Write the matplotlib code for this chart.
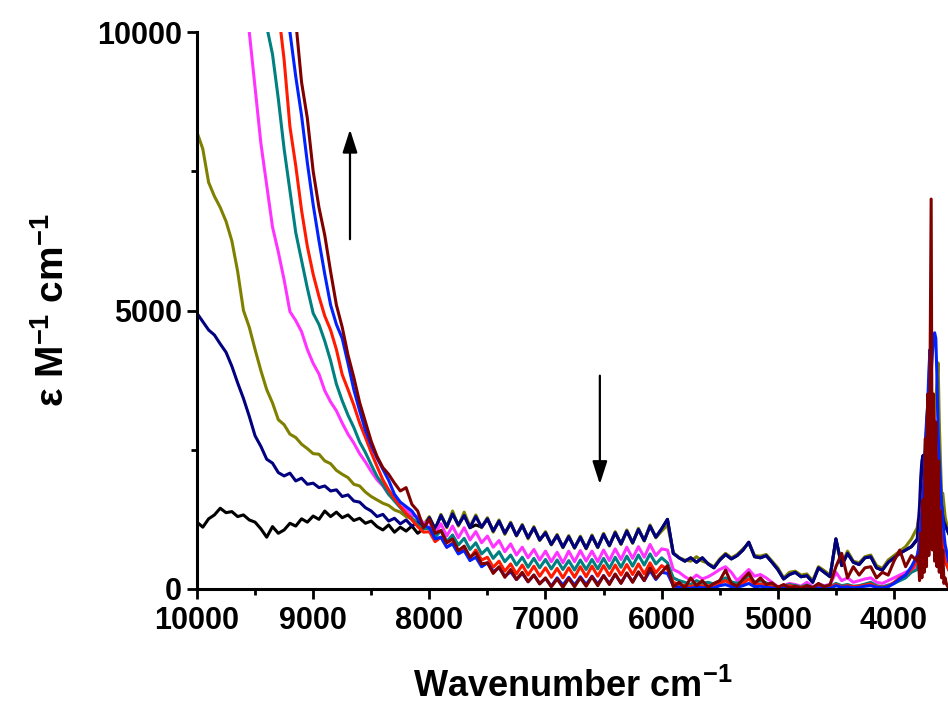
import matplotlib
matplotlib.use("Agg")
import matplotlib.pyplot as plt
from matplotlib.ticker import MultipleLocator

plt.rcParams['font.family'] = ['Liberation Sans', 'DejaVu Sans']
plt.rcParams['font.weight'] = 'bold'
plt.rcParams['mathtext.fontset'] = 'custom'
plt.rcParams['mathtext.rm'] = 'Liberation Sans:bold'
plt.rcParams['mathtext.bf'] = 'Liberation Sans:bold'
plt.rcParams['mathtext.default'] = 'bf'

# wavenumber grid (cm-1), 10 points per row
wavenumber = [
    10000, 9950, 9900, 9850, 9800, 9750, 9700, 9650, 9600, 9550,
    9500, 9450, 9400, 9350, 9300, 9250, 9200, 9150, 9100, 9050,
    9000, 8950, 8900, 8850, 8800, 8750, 8700, 8650, 8600, 8550,
    8500, 8450, 8400, 8350, 8300, 8250, 8200, 8150, 8100, 8050,
    8000, 7950, 7900, 7850, 7800, 7750, 7700, 7650, 7600, 7550,
    7500, 7450, 7400, 7350, 7300, 7250, 7200, 7150, 7100, 7050,
    7000, 6950, 6900, 6850, 6800, 6750, 6700, 6650, 6600, 6550,
    6500, 6450, 6400, 6350, 6300, 6250, 6200, 6150, 6100, 6050,
    6000, 5950, 5900, 5850, 5800, 5750, 5700, 5650, 5600, 5550,
    5500, 5450, 5400, 5350, 5300, 5250, 5200, 5150, 5100, 5050,
    5000, 4950, 4900, 4850, 4800, 4750, 4700, 4650, 4600, 4550,
    4500, 4450, 4400, 4350, 4300, 4250, 4200, 4150, 4100, 4050,
    4000, 3950, 3900, 3850, 3800, 3790, 3780, 3770, 3760, 3750,
    3740, 3730, 3720, 3710, 3700, 3690, 3680, 3670, 3660, 3650,
    3640, 3630, 3620, 3610, 3600, 3590, 3580, 3570, 3560, 3550,
    3540, 3530,
]

eps_black = [
    1200, 1110, 1260, 1330, 1450, 1370, 1390, 1300, 1330, 1240,
    1200, 1080, 930, 1120, 1000, 1060, 1180, 1130, 1260, 1200,
    1310, 1250, 1400, 1300, 1380, 1280, 1330, 1230, 1270, 1180,
    1220, 1120, 1060, 1150, 1020, 1110, 1040, 1130, 1000, 1080,
    1280, 1080, 1320, 1120, 1350, 1150, 1320, 1100, 1150, 1110,
    1260, 1040, 1220, 1000, 1180, 960, 1140, 920, 1100, 880,
    1010, 800, 960, 750, 940, 740, 930, 730, 950, 750,
    980, 780, 1010, 810, 1040, 830, 1070, 870, 1130, 930,
    1080, 1250, 640, 560, 500, 560, 480, 560, 450, 380,
    520, 620, 540, 600, 700, 840, 580, 560, 600, 480,
    350, 180, 260, 300, 220, 240, 120, 380, 300, 220,
    900, 420, 640, 480, 440, 560, 580, 380, 340, 480,
    560, 640, 700, 760, 880, 950, 1150, 1450, 1900, 2200,
    2300, 2100, 2500, 2900, 3200, 3300, 3000, 3500, 3200, 2900,
    2500, 2200, 1900, 1700, 1800, 1600, 1400, 1250, 1150, 1100,
    1050, 1000,
]

eps_olive = [
    8200, 7900, 7300, 7050, 6850, 6600, 6250, 5700, 5000, 4700,
    4300, 3920, 3580, 3340, 3040, 2950, 2780, 2720, 2600, 2520,
    2430, 2420, 2300, 2250, 2130, 2060, 2000, 1880, 1850, 1740,
    1660, 1600, 1540, 1500, 1420, 1380, 1300, 1260, 1200, 1150,
    1300, 1060, 1340, 1100, 1400, 1130, 1380, 1120, 1330, 1100,
    1280, 1020, 1240, 980, 1200, 950, 1160, 900, 1120, 870,
    1030, 790, 980, 740, 960, 730, 950, 720, 970, 740,
    1000, 770, 1030, 800, 1060, 820, 1090, 860, 1150, 920,
    1040, 1150, 650, 560, 520, 500, 580, 500, 460, 400,
    540, 640, 560, 620, 720, 820, 600, 590, 620, 500,
    380, 200, 300, 320, 250, 270, 150, 400, 330, 250,
    850, 440, 680, 500, 470, 580, 610, 420, 370, 520,
    600, 680, 760, 900, 1100, 1250, 1000, 1300, 1100, 1400,
    1600, 1900, 2100, 2400, 2600, 2900, 2700, 3000, 3300, 3100,
    3400, 3700, 4060, 3000, 2300, 1700, 1720, 1500, 1300, 1200,
    1100, 1000,
]

eps_navy = [
    4950, 4800, 4650, 4560, 4400, 4250, 4000, 3700, 3420, 3100,
    2750, 2560, 2330, 2260, 2090, 2030, 2080, 1940, 1990, 1880,
    1900, 1820, 1850, 1760, 1780, 1660, 1690, 1580, 1560, 1460,
    1400, 1300, 1340, 1220, 1270, 1170, 1240, 1130, 1200, 1100,
    1280, 1080, 1320, 1120, 1350, 1150, 1320, 1100, 1300, 1110,
    1260, 1040, 1220, 1000, 1180, 960, 1140, 920, 1100, 880,
    1010, 800, 960, 750, 940, 740, 930, 730, 950, 750,
    980, 780, 1010, 810, 1040, 830, 1070, 870, 1130, 930,
    1080, 1250, 640, 560, 500, 560, 480, 560, 450, 380,
    520, 620, 540, 600, 700, 840, 580, 560, 600, 480,
    350, 180, 260, 300, 220, 240, 120, 380, 300, 220,
    900, 420, 640, 480, 440, 560, 580, 380, 340, 480,
    560, 640, 700, 760, 900, 1200, 1500, 2000, 2300, 2400,
    2200, 2600, 3000, 3300, 3400, 3200, 3600, 3300, 3000, 2600,
    2300, 2000, 1800, 1900, 1700, 1500, 1300, 1200, 1150, 1100,
    1050, 1000,
]

eps_magenta = [
    15000, 14500, 14000, 13500, 13000, 12500, 12000, 11300, 10700, 10000,
    9000, 8000, 7250, 6500, 6050, 5550, 4980, 4820, 4620, 4300,
    4050, 3860, 3560, 3360, 3200, 2980, 2780, 2620, 2430, 2280,
    2110, 1960, 1850, 1700, 1620, 1480, 1440, 1320, 1300, 1180,
    1200, 1000, 1170, 950, 1130, 920, 1100, 880, 1030, 830,
    950, 750, 870, 670, 810, 610, 750, 560, 710, 520,
    680, 490, 660, 470, 680, 490, 690, 500, 680, 490,
    700, 510, 720, 530, 750, 550, 760, 570, 800, 600,
    720, 700, 350, 300, 220, 160, 250, 180, 220, 280,
    350, 400, 300, 150, 250, 350, 230, 260, 200, 120,
    40, 60, 100, 80, 50, 120, 40, 90, 60, 80,
    300, 150, 200, 120, 150, 180, 200, 120, 100, 150,
    200, 250, 300, 350, 400, 600, 800, 1000, 1300, 1600,
    1900, 2200, 2500, 2800, 3000, 3200, 3000, 3300, 3000, 2700,
    2300, 2000, 1700, 1400, 1100, 900, 800, 700, 600, 500,
    450, 400,
]

eps_teal = [
    17000, 16500, 16000, 15500, 15000, 14500, 14000, 13500, 13000, 12500,
    11500, 10800, 10100, 9600, 8800, 7900, 7150, 6400, 5900, 5400,
    4950, 4750, 4450, 4100, 3680, 3380, 3120, 2900, 2640, 2450,
    2230, 2020, 1870, 1700, 1580, 1460, 1350, 1270, 1150, 1080,
    1090, 930, 1050, 850, 970, 790, 910, 710, 830, 630,
    730, 550, 670, 490, 610, 430, 570, 390, 550, 380,
    530, 360, 520, 350, 510, 340, 520, 350, 530, 360,
    550, 370, 570, 390, 590, 410, 610, 430, 630, 450,
    560, 470, 200, 150, 120, 80, 150, 100, 120, 90,
    150, 200, 130, 100, 150, 250, 120, 150, 110, 60,
    40, 50, 80, 60, 40, 70, 30, 60, 50, 40,
    100, 60, 80, 50, 60, 90, 120, 60, 40, 70,
    100, 150, 200, 300, 350, 500, 700, 900, 1200, 1500,
    1800, 2100, 2400, 2700, 2900, 3100, 2900, 3200, 2900, 2600,
    2200, 1900, 1600, 1300, 1000, 800, 700, 600, 500, 450,
    400, 350,
]

eps_red = [
    19000, 18500, 18000, 17500, 17000, 16500, 16000, 15500, 15000, 14500,
    13500, 12800, 12000, 11200, 10400, 9500, 8300, 7600, 6800, 6150,
    5650, 5250, 4900, 4650, 4300, 3850, 3580, 3300, 2980, 2720,
    2450, 2200, 1960, 1780, 1620, 1480, 1360, 1240, 1120, 1020,
    1030, 850, 930, 750, 830, 650, 730, 550, 700, 520,
    570, 390, 500, 320, 450, 270, 430, 250, 410, 230,
    380, 210, 370, 200, 380, 210, 400, 220, 410, 230,
    420, 240, 430, 250, 440, 260, 450, 270, 470, 290,
    420, 350, 120, 80, 60, 40, 80, 50, 60, 40,
    100, 150, 80, 60, 100, 180, 80, 90, 60, 40,
    30, 40, 60, 40, 30, 50, 20, 40, 30, 30,
    80, 40, 60, 40, 50, 70, 90, 40, 30, 50,
    120, 200, 250, 350, 500, 700, 900, 1100, 1400, 1700,
    2000, 2400, 2800, 3200, 3400, 3600, 3300, 3500, 3200, 2900,
    2500, 2100, 1700, 1400, 1100, 900, 800, 600, 500, 450,
    400, 350,
]

eps_blue = [
    20000, 19500, 19000, 18500, 18000, 17500, 17000, 16500, 16000, 15500,
    14500, 13900, 13300, 12700, 12000, 11200, 10000, 9200, 8500, 7650,
    6900, 6250, 5650, 5100, 4750, 4500, 4050, 3580, 3200, 2850,
    2580, 2350, 2150, 1950, 1700, 1560, 1480, 1400, 1250, 1150,
    1100, 900, 930, 750, 810, 630, 690, 510, 570, 400,
    470, 310, 380, 230, 310, 170, 280, 130, 250, 100,
    190, 50, 200, 70, 210, 70, 220, 80, 230, 90,
    240, 100, 260, 110, 280, 130, 300, 150, 330, 170,
    300, 280, 60, 30, 20, 10, 40, 20, 30, 20,
    60, 80, 40, 30, 60, 100, 40, 50, 30, 20,
    10, 20, 30, 20, 10, 20, 10, 20, 10, 10,
    60, 30, 40, 20, 30, 50, 60, 30, 20, 40,
    100, 180, 250, 400, 600, 700, 900, 1100, 1400, 1700,
    2000, 2400, 2800, 3300, 3900, 4300, 3900, 4200, 4500, 4600,
    4500, 3800, 2800, 2300, 1900, 1500, 1300, 1000, 800, 700,
    600, 500,
]

eps_maroon = [
    21000, 20500, 20000, 19500, 19000, 18500, 18000, 17500, 17000, 16500,
    15500, 14800, 14100, 13400, 12600, 11800, 11000, 10200, 9100, 8450,
    7500, 6850, 6350, 5700, 5100, 4700, 4200, 3800, 3350, 3000,
    2650, 2380, 2180, 2060, 1900, 1760, 1820, 1520, 1400, 1100,
    1250, 1000, 1050, 830, 900, 690, 770, 570, 650, 450,
    470, 280, 400, 210, 350, 170, 300, 130, 250, 90,
    200, 40, 180, 30, 190, 40, 200, 50, 220, 60,
    240, 80, 270, 100, 290, 120, 310, 150, 380, 190,
    300, 420, 40, 120, 20, 200, 60, 150, 30, 100,
    150, 340, 100, 50, 180, 290, 100, 200, 80, 110,
    30, 80, 20, 50, 10, 60, 20, 100, 40, 80,
    400, 640, 200, 400, 250, 380, 400, 200, 300, 250,
    500, 700, 400, 600, 500, 600, 150, 1000, 200, 1600,
    300, 2700, 400, 3500, 600, 3700, 7000, 700, 3500, 500,
    3000, 400, 2300, 300, 1400, 200, 700, 100, 200, 100,
    50, 30,
]

series = [
    (eps_black, '#000000'),
    (eps_olive, '#808000'),
    (eps_navy, '#000080'),
    (eps_magenta, '#FF33FF'),
    (eps_teal, '#008080'),
    (eps_red, '#FF1A00'),
    (eps_blue, '#0022FF'),
    (eps_maroon, '#800000'),
]

fig = plt.figure(figsize=(9.48, 7.16), dpi=100)
ax = fig.add_axes([197 / 948, 1 - 589 / 716, (948 - 197) / 948, (589 - 32) / 716])

for vals, col in series:
    ax.plot(wavenumber, vals, color=col, lw=2.2)

ax.set_xlim(10000, 3535)
ax.set_ylim(0, 10000)

ax.xaxis.set_major_locator(MultipleLocator(1000))
ax.xaxis.set_minor_locator(MultipleLocator(500))
ax.yaxis.set_major_locator(MultipleLocator(5000))
ax.yaxis.set_minor_locator(MultipleLocator(2500))

ax.spines['top'].set_visible(False)
ax.spines['right'].set_visible(False)
for s in ['left', 'bottom']:
    ax.spines[s].set_linewidth(2.2)

ax.tick_params(which='major', direction='out', length=7, width=2, labelsize=22)
ax.tick_params(axis='x', which='major', pad=5)
ax.tick_params(axis='y', which='major', pad=4)
ax.tick_params(which='minor', direction='out', length=4, width=2)
for lab in ax.get_xticklabels() + ax.get_yticklabels():
    lab.set_fontweight('bold')

ax.set_xlabel('Wavenumber cm$^{-1}$', fontsize=26, fontweight='bold', labelpad=24)
ax.set_ylabel('ε M$^{-1}$ cm$^{-1}$', fontsize=28, fontweight='bold', labelpad=18)

# arrows
ax.annotate('', xy=(8683, 8300), xytext=(8683, 6230),
            arrowprops=dict(arrowstyle='-|>,head_width=0.45,head_length=1.4',
                            mutation_scale=10, lw=1.6, color='black'))
ax.annotate('', xy=(6532, 1830), xytext=(6532, 3880),
            arrowprops=dict(arrowstyle='-|>,head_width=0.45,head_length=1.4',
                            mutation_scale=10, lw=1.6, color='black'))

fig.savefig('out.png', dpi=100)
